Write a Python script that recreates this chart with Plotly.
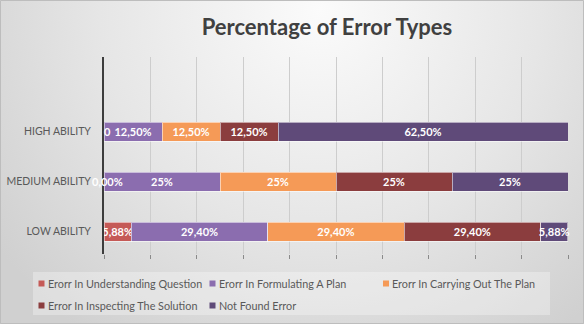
import base64
import plotly.graph_objects as go

# ---- data -------------------------------------------------------------
categories = ["LOW ABILITY", "MEDIUM ABILITY", "HIGH ABILITY"]
series_names = [
    "Erorr In Understanding Question",
    "Erorr In Formulating A Plan",
    "Erorr In Carrying Out The Plan",
    "Error In Inspecting The Solution",
    "Not Found Error",
]
understanding = [5.88, 0.0, 0.0]
formulating = [29.40, 25.0, 12.50]
carrying_out = [29.40, 25.0, 12.50]
inspecting = [29.40, 25.0, 12.50]
not_found = [5.88, 25.0, 62.50]

# data-label text as formatted in the source sheet
understanding_labels = ["5,88%", "0,00%", "0"]
formulating_labels = ["29,40%", "25%", "12,50%"]
carrying_out_labels = ["29,40%", "25%", "12,50%"]
inspecting_labels = ["29,40%", "25%", "12,50%"]
not_found_labels = ["5,88%", "25%", "62,50%"]

colors = ["#c55a57", "#8b6daf", "#f59a57", "#8b3d3e", "#5f4a79"]

values = [understanding, formulating, carrying_out, inspecting, not_found]
labels = [understanding_labels, formulating_labels, carrying_out_labels,
          inspecting_labels, not_found_labels]

# ---- geometry ---------------------------------------------------------
W, H = 584, 324
ML, MR, MT, MB = 104, 16, 57, 70
PW, PH = W - ML - MR, H - MT - MB

FONT = "Lato, 'Open Sans', sans-serif"

fx = lambda px: (px - ML) / PW
fy = lambda py: (H - MB - py) / PH

fig = go.Figure()

for name, vals, labs, col in zip(series_names, values, labels, colors):
    fig.add_trace(go.Bar(
        name=name,
        y=categories,
        x=vals,
        orientation="h",
        text=[t if v > 0 else "" for t, v in zip(labs, vals)],
        textposition="inside",
        insidetextanchor="middle",
        textangle=0,
        constraintext="none",
        cliponaxis=False,
        textfont=dict(family=FONT, size=11, color="white", weight="bold"),
        marker=dict(color=col, line=dict(color="rgba(255,255,255,0.55)", width=1)),
        showlegend=False,
        hovertemplate="%{y}<br>" + name + ": %{x}%<extra></extra>",
    ))

annotations = []
shapes = []

# labels for zero-width segments sit on the baseline
for cat, v, lab in zip(categories, understanding, understanding_labels):
    if v == 0:
        annotations.append(dict(
            x=v, y=cat, xref="x", yref="y", text=lab, showarrow=False,
            xanchor="center", xshift=3,
            font=dict(family=FONT, size=11, color="white", weight="bold"),
        ))

# legend panel with compact square keys, laid out in a 3-column grid
shapes.append(dict(type="rect", xref="paper", yref="paper",
                   x0=fx(33), x1=fx(550), y0=fy(315), y1=fy(272),
                   line=dict(width=0), fillcolor="rgba(255,255,255,0.3)",
                   layer="below"))
key_cols = [41.5, 212.5, 386]
key_rows = [283.5, 305.5]
for i, (name, col) in enumerate(zip(series_names, colors)):
    cx = key_cols[i % 3]
    cy = key_rows[i // 3]
    shapes.append(dict(type="rect", xref="paper", yref="paper",
                       x0=fx(cx - 3), x1=fx(cx + 3), y0=fy(cy + 3), y1=fy(cy - 3),
                       line=dict(width=0), fillcolor=col, layer="above"))
    annotations.append(dict(
        x=fx(cx + 4), y=fy(cy), xref="paper", yref="paper",
        text=name, showarrow=False, xanchor="left", yanchor="middle",
        font=dict(family=FONT, size=10.8, color="#595959"),
    ))

# chart frame
shapes.append(dict(type="rect", xref="paper", yref="paper",
                   x0=fx(0.5), x1=fx(W - 0.5), y0=fy(H - 0.5), y1=fy(0.5),
                   line=dict(color="#bdbdbd", width=1), layer="above"))

# soft radial backdrop behind the whole chart
svg = f"""<svg xmlns='http://www.w3.org/2000/svg' width='{W}' height='{H}' viewBox='0 0 {W} {H}' preserveAspectRatio='none'>
<defs><radialGradient id='g' gradientUnits='userSpaceOnUse' cx='320' cy='10' r='400'>
<stop offset='0' stop-color='#fbfbfb'/><stop offset='0.55' stop-color='#e6e6e6'/>
<stop offset='1' stop-color='#d0d0d0'/></radialGradient></defs>
<rect width='{W}' height='{H}' fill='url(#g)'/>
</svg>"""
bg_src = "data:image/svg+xml;base64," + base64.b64encode(svg.encode()).decode()

fig.update_layout(
    width=W, height=H,
    margin=dict(l=ML, r=MR, t=MT, b=MB, autoexpand=False),
    barmode="stack",
    bargap=0.62,
    showlegend=False,
    paper_bgcolor="#e2e2e2",
    plot_bgcolor="rgba(0,0,0,0)",
    font=dict(family=FONT, color="#595959"),
    title=dict(
        text="Percentage of Error Types",
        x=327 / W, xanchor="center", y=1 - 27 / H, yanchor="middle",
        font=dict(family=FONT, size=22, color="#404040", weight="bold"),
    ),
    xaxis=dict(
        range=[0, 100], dtick=10, showticklabels=False,
        showgrid=True, gridcolor="#cdcdcd", gridwidth=1,
        zeroline=False, ticks="outside", ticklen=4, tickcolor="#8a8a8a",
        showline=False, fixedrange=True,
    ),
    yaxis=dict(
        categoryorder="array", categoryarray=categories,
        range=[-0.45, 3.5],
        showline=True, linecolor="#3d3d3d", linewidth=2,
        ticks="", ticklabelstandoff=9,
        tickfont=dict(family=FONT, size=10.5, color="#595959"),
        showgrid=False, zeroline=False, fixedrange=True,
    ),
    images=[dict(
        source=bg_src, xref="paper", yref="paper",
        x=fx(0), y=fy(0), sizex=W / PW, sizey=H / PH,
        xanchor="left", yanchor="top", sizing="stretch", layer="below",
    )],
    shapes=shapes,
    annotations=annotations,
)

fig.write_html("out.html")
